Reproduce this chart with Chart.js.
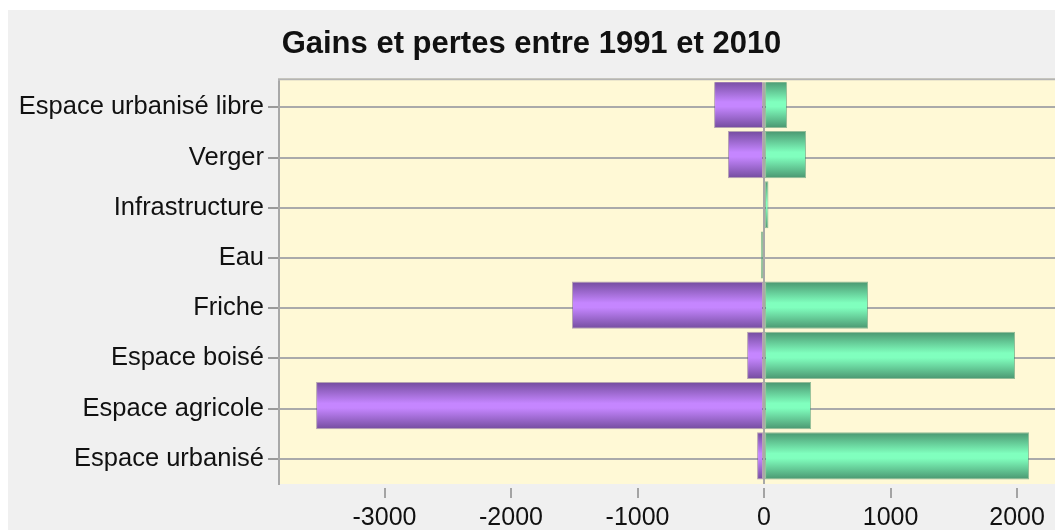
<!DOCTYPE html>
<html>
<head>
<meta charset="utf-8">
<script src="https://cdn.jsdelivr.net/npm/chart.js@4"></script>
<style>
  html, body { margin: 0; padding: 0; background: #ffffff; }
  #box { position: absolute; left: 8px; top: 10px; width: 1047px; height: 520px; background: #f0f0f0; }
</style>
</head>
<body>
<div id="box"><canvas id="chart"></canvas></div>
<script>
'use strict';

var categories = ['Espace urbanisé libre', 'Verger', 'Infrastructure', 'Eau', 'Friche', 'Espace boisé', 'Espace agricole', 'Espace urbanisé'];
var pertes = [-395, -285, 0, 0, -1518, -134, -3541, -55];
var gains = [182, 332, 35, -25, 822, 1984, 372, 2095];
var xTicks = [-3000, -2000, -1000, 0, 1000, 2000];

var BAR_PCT = 0.94;
var BAR_LIFT = 3;   // bars sit a little above their grid line
var TOP_EXTRA = 4;  // plot frame starts slightly above the first slot

// shaded bar: dark at the edges, light in the middle
function barShade(edge, mid) {
  return function (c) {
    var chart = c.chart;
    var y = chart.scales.y;
    if (c.type !== 'data' || !y || !chart.chartArea) return mid;
    var center = y.getPixelForValue(c.dataIndex) - BAR_LIFT;
    var half = Math.abs(y.getPixelForValue(1) - y.getPixelForValue(0)) * BAR_PCT / 2;
    var g = chart.ctx.createLinearGradient(0, center - half, 0, center + half);
    g.addColorStop(0, edge);
    g.addColorStop(0.45, mid);
    g.addColorStop(0.55, mid);
    g.addColorStop(1, edge);
    return g;
  };
}

var plotBg = {
  id: 'plotBg',
  beforeDraw: function (chart) {
    var a = chart.chartArea;
    var ctx = chart.ctx;
    var top = a.top - TOP_EXTRA;
    ctx.save();
    ctx.fillStyle = '#fff9d6';
    ctx.fillRect(a.left, top, a.right - a.left, a.bottom - top);
    ctx.strokeStyle = '#b4b4b4';
    ctx.lineWidth = 2;
    ctx.beginPath();
    ctx.moveTo(a.left - 1, top + 1);
    ctx.lineTo(a.right, top + 1);
    ctx.moveTo(a.left, top);
    ctx.lineTo(a.left, a.top);
    ctx.stroke();
    ctx.restore();
  },
  afterDatasetsUpdate: function (chart) {
    chart.data.datasets.forEach(function (ds, i) {
      chart.getDatasetMeta(i).data.forEach(function (bar) { bar.y -= BAR_LIFT; });
    });
  }
};

var ctx = document.getElementById('chart').getContext('2d');

new Chart(ctx, {
  type: 'bar',
  data: {
    labels: categories,
    datasets: [{
      label: 'Pertes',
      data: pertes,
      stack: 's',
      backgroundColor: barShade('#744c9e', '#c586ff'),
      borderColor: 'rgba(110,80,140,0.5)',
      borderWidth: 1,
      borderSkipped: false
    }, {
      label: 'Gains',
      data: gains,
      stack: 's',
      backgroundColor: barShade('#4a9670', '#80ffbe'),
      borderColor: 'rgba(60,140,100,0.55)',
      borderWidth: 1,
      borderSkipped: false
    }]
  },
  options: {
    indexAxis: 'y',
    responsive: true,
    maintainAspectRatio: false,
    animation: false,
    layout: { padding: 0 },
    datasets: {
      bar: { categoryPercentage: 1, barPercentage: BAR_PCT }
    },
    plugins: {
      legend: { display: false },
      tooltip: { enabled: false },
      title: {
        display: true,
        text: 'Gains et pertes entre 1991 et 2010',
        color: '#111111',
        font: { family: '"Liberation Sans", Arial, sans-serif', size: 31, weight: 'bold' },
        padding: { top: 16, bottom: 19 }
      }
    },
    scales: {
      x: {
        stacked: true,
        min: -3834,
        max: 2300,
        afterBuildTicks: function (scale) {
          scale.ticks = xTicks.map(function (v) { return { value: v }; });
        },
        afterFit: function (scale) { scale.height = 46; },
        border: { display: false },
        grid: {
          drawOnChartArea: true,
          color: function (c) { return c.tick && c.tick.value === 0 ? '#a8a8a8' : 'rgba(0,0,0,0)'; },
          lineWidth: 2,
          tickColor: '#8a8a8a',
          tickWidth: 1.5,
          tickLength: 14,
          tickBorderDash: [0, 4, 10, 100]
        },
        ticks: {
          autoSkip: false,
          maxRotation: 0,
          minRotation: 0,
          padding: 5,
          color: '#111111',
          font: { family: '"Liberation Sans", Arial, sans-serif', size: 25 },
          callback: function (value) { return String(value); }
        }
      },
      y: {
        stacked: true,
        afterFit: function (scale) { scale.width = 271; },
        border: { display: true, color: '#a8a8a8', width: 2 },
        grid: {
          offset: false,
          color: '#aaaaaa',
          lineWidth: 2,
          tickColor: '#9a9a9a',
          tickLength: 11
        },
        ticks: {
          padding: 4,
          color: '#111111',
          font: { family: '"Liberation Sans", Arial, sans-serif', size: 25.5 }
        }
      }
    }
  },
  plugins: [plotBg]
});
</script>
</body>
</html>
